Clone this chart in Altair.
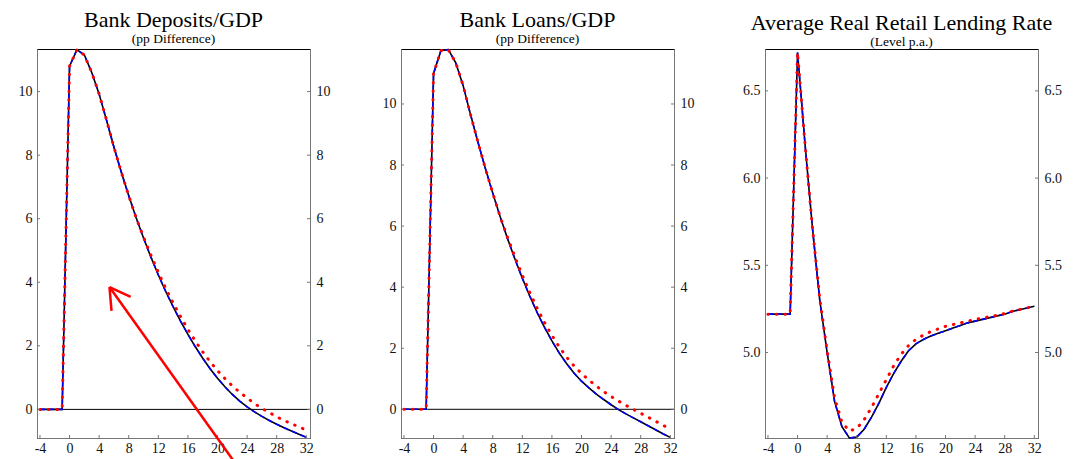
import altair as alt
import pandas as pd

quarters = list(range(-4, 33))
x_ticks = [-4, 0, 4, 8, 12, 16, 20, 24, 28, 32]

# Bank Deposits/GDP (pp difference)
dep_black = [0, 0, 0, 0, 10.8, 11.32, 11.15, 10.6, 9.92, 9.1, 8.25, 7.46, 6.72, 6.03,
             5.39, 4.79, 4.23, 3.71, 3.23, 2.78, 2.36, 1.97, 1.61, 1.28, 0.98, 0.71,
             0.47, 0.26, 0.08, -0.08, -0.22, -0.35, -0.47, -0.58, -0.68, -0.78, -0.88]
dep_blue = [0, 0, 0, 0, 10.8, 11.32, 11.15, 10.6, 9.92, 9.1, 8.25, 7.46, 6.72, 6.03,
            5.39, 4.79, 4.23, 3.71, 3.23, 2.78, 2.36, 1.97, 1.61, 1.28, 0.98, 0.71,
            0.47, 0.26, 0.08, -0.08, -0.22, -0.35, -0.47, -0.58, -0.68, -0.78, -0.88]
dep_red = [0, 0, 0, 0, 10.8, 11.32, 11.15, 10.6, 9.92, 9.1, 8.25, 7.46, 6.72, 6.03,
           5.42, 4.85, 4.31, 3.81, 3.35, 2.92, 2.52, 2.15, 1.81, 1.5, 1.22, 0.97,
           0.74, 0.54, 0.36, 0.18, 0.03, -0.1, -0.23, -0.35, -0.45, -0.55, -0.65]

# Bank Loans/GDP (pp difference)
loan_black = [0, 0, 0, 0, 11.0, 11.75, 11.78, 11.35, 10.6, 9.65, 8.75, 7.89, 7.08, 6.31,
              5.59, 4.92, 4.29, 3.71, 3.17, 2.68, 2.24, 1.84, 1.49, 1.18, 0.92, 0.7,
              0.5, 0.32, 0.15, -0.01, -0.15, -0.28, -0.41, -0.54, -0.67, -0.8, -0.92]
loan_blue = [0, 0, 0, 0, 11.0, 11.75, 11.78, 11.35, 10.6, 9.65, 8.75, 7.89, 7.08, 6.31,
             5.59, 4.92, 4.29, 3.71, 3.17, 2.68, 2.24, 1.84, 1.49, 1.18, 0.92, 0.7,
             0.5, 0.32, 0.15, -0.01, -0.15, -0.28, -0.41, -0.54, -0.67, -0.8, -0.92]
loan_red = [0, 0, 0, 0, 11.0, 11.75, 11.78, 11.35, 10.6, 9.65, 8.75, 7.89, 7.08, 6.31,
            5.63, 4.99, 4.39, 3.83, 3.31, 2.84, 2.42, 2.04, 1.7, 1.42, 1.17, 0.96,
            0.76, 0.58, 0.42, 0.27, 0.13, 0.0, -0.13, -0.26, -0.39, -0.52, -0.65]

# Average Real Retail Lending Rate (level p.a.)
rate_black = [5.22, 5.22, 5.22, 5.22, 6.72, 6.2, 5.72, 5.3, 5.0, 4.72, 4.575, 4.51, 4.515,
              4.56, 4.63, 4.71, 4.8, 4.88, 4.95, 5.01, 5.05, 5.075, 5.095, 5.11, 5.125,
              5.14, 5.155, 5.17, 5.18, 5.19, 5.2, 5.21, 5.22, 5.235, 5.245, 5.255, 5.265]
rate_blue = [5.22, 5.22, 5.22, 5.22, 6.72, 6.2, 5.72, 5.3, 5.0, 4.72, 4.575, 4.51, 4.515,
             4.56, 4.63, 4.71, 4.8, 4.88, 4.95, 5.01, 5.05, 5.075, 5.095, 5.11, 5.125,
             5.14, 5.155, 5.17, 5.18, 5.19, 5.2, 5.21, 5.22, 5.235, 5.245, 5.255, 5.265]
rate_red = [5.22, 5.22, 5.22, 5.22, 6.72, 6.2, 5.72, 5.31, 5.01, 4.74, 4.6, 4.55, 4.565,
            4.615, 4.685, 4.765, 4.845, 4.925, 4.99, 5.04, 5.075, 5.1, 5.12, 5.135, 5.15,
            5.16, 5.17, 5.18, 5.19, 5.198, 5.206, 5.214, 5.224, 5.236, 5.246, 5.256, 5.266]

# annotation arrow (data units of the first panel)
arrow_x = [22.57, 5.40, 5.40]
arrow_y = [-1.75, 3.85, 3.85]
arrow_x2 = [5.40, 8.26, 5.67]
arrow_y2 = [3.85, 3.54, 3.10]

FONT = "Liberation Serif"
W, H = 273, 389
X_DOMAIN = [-4.4, 32.5]
AXIS_GREY = "#777777"


def panel(black, blue, red, ydom, yticks, lab_expr, title, subtitle, zero=False, arrow=False):
    xs = alt.Scale(domain=X_DOMAIN, nice=False, zero=False)
    ys = alt.Scale(domain=ydom, nice=False, zero=False)
    xaxis = alt.Axis(values=x_ticks, title=None, labelExpr="datum.value", labelPadding=3)
    X = alt.X("t:Q", scale=xs, axis=xaxis)
    left_axis = alt.Axis(values=yticks, title=None, orient="left", labelExpr=lab_expr,
                         labelPadding=5)
    right_axis = alt.Axis(values=yticks, title=None, orient="right", labelExpr=lab_expr,
                          labelPadding=6)

    def frame(vals):
        return pd.DataFrame({"t": quarters, "v": vals})

    layers = []
    if zero:
        layers.append(
            alt.Chart(pd.DataFrame({"v": [0]})).mark_rule(color="black", strokeWidth=1)
            .encode(y=alt.Y("v:Q", scale=ys, axis=None))
        )
    layers.append(
        alt.Chart(frame(black)).mark_line(color="black", strokeWidth=1.6)
        .encode(x=X, y=alt.Y("v:Q", scale=ys, axis=left_axis))
    )
    layers.append(
        alt.Chart(frame(blue)).mark_line(color="#0000ff", strokeWidth=1.6, strokeDash=[5, 4])
        .encode(x=X, y=alt.Y("v:Q", scale=ys, axis=None))
    )
    layers.append(
        alt.Chart(frame(red)).mark_line(color="#ff0000", strokeWidth=3, strokeDash=[0.5, 8],
                                        strokeCap="round")
        .encode(x=X, y=alt.Y("v:Q", scale=ys, axis=None))
    )
    # inward tick marks
    layers.append(
        alt.Chart(pd.DataFrame({"t": x_ticks})).mark_rule(color=AXIS_GREY, strokeWidth=1)
        .encode(x=X, y=alt.value(H - 3), y2=alt.value(H))
    )
    layers.append(
        alt.Chart(pd.DataFrame({"v": yticks})).mark_rule(color=AXIS_GREY, strokeWidth=1)
        .encode(y=alt.Y("v:Q", scale=ys, axis=None), x=alt.value(0), x2=alt.value(3))
    )
    layers.append(
        alt.Chart(pd.DataFrame({"v": yticks})).mark_rule(color=AXIS_GREY, strokeWidth=1)
        .encode(y=alt.Y("v:Q", scale=ys, axis=right_axis), x=alt.value(W - 3), x2=alt.value(W))
    )
    if arrow:
        adf = pd.DataFrame({"ax": arrow_x, "ay": arrow_y, "ax2": arrow_x2, "ay2": arrow_y2})
        layers.append(
            alt.Chart(adf).mark_rule(color="#ff0000", strokeWidth=2.5)
            .encode(x=alt.X("ax:Q", scale=xs, axis=xaxis), x2="ax2:Q",
                    y=alt.Y("ay:Q", scale=ys, axis=None), y2="ay2:Q")
        )
    return (
        alt.layer(*layers)
        .resolve_scale(y="shared", x="shared")
        .resolve_axis(y="independent")
        .properties(
            width=W, height=H,
            title=alt.TitleParams(
                text=title, subtitle=subtitle, font=FONT, subtitleFont=FONT,
                fontSize=22, subtitleFontSize=13.5, fontWeight="normal",
                color="black", subtitleColor="black", anchor="middle",
                offset=-3, subtitlePadding=0,
            ),
        )
    )


p1 = panel(dep_black, dep_blue, dep_red, [-0.9, 11.34], [0, 2, 4, 6, 8, 10], "datum.value",
           "Bank Deposits/GDP", "(pp Difference)", zero=True, arrow=True)
p2 = panel(loan_black, loan_blue, loan_red, [-0.94, 11.8], [0, 2, 4, 6, 8, 10], "datum.value",
           "Bank Loans/GDP", "(pp Difference)", zero=True)
p3 = panel(rate_black, rate_blue, rate_red, [4.51, 6.74], [5.0, 5.5, 6.0, 6.5],
           "format(datum.value, '.1f')", "Average Real Retail Lending Rate", "(Level p.a.)")

chart = (
    alt.hconcat(p1, p2, p3, spacing=91, bounds="flush")
    .properties(padding={"left": 9, "top": 0, "right": 5, "bottom": 0})
    .configure_view(stroke="black", strokeWidth=1)
    .configure_axis(labelFont=FONT, labelFontSize=14, labelColor="#111111", grid=False,
                    ticks=False, tickSize=0, domainColor=AXIS_GREY, domainWidth=1)
)

chart.save("out.html", embed_options={"renderer": "svg", "actions": False})
